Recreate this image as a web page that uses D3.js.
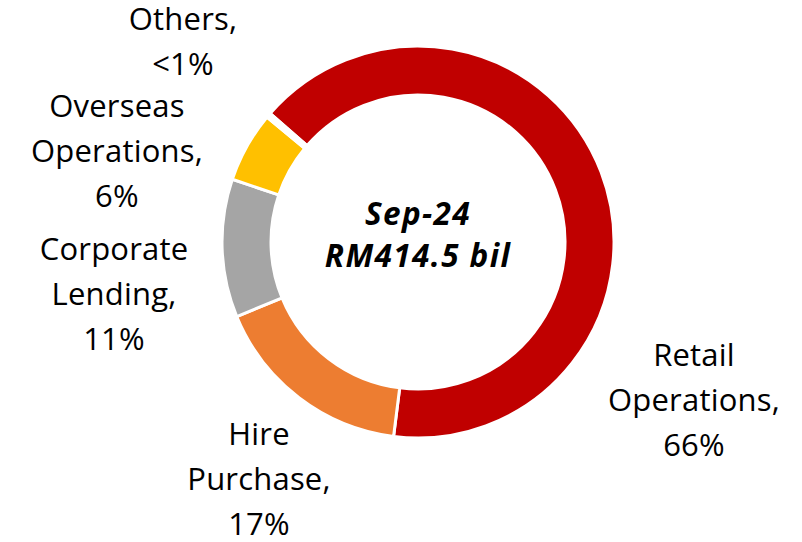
<!DOCTYPE html>
<html>
<head>
<meta charset="utf-8">
<script src="https://cdn.jsdelivr.net/npm/d3@7"></script>
<style>
  html, body { margin: 0; padding: 0; background: #ffffff; }
  svg { display: block; }
  text { font-family: "Open Sans", "Noto Sans", sans-serif; fill: #000000; }
</style>
</head>
<body>
<svg id="chart" width="802" height="542"></svg>
<script>
// ==============================
// DATA
// ==============================

const segments = ["Retail Operations", "Hire Purchase", "Corporate Lending", "Overseas Operations", "Others"];
const shares = [65.6, 16.8, 11.4, 5.8, 0.4];
const shareLabels = ["66%", "17%", "11%", "6%", "<1%"];
const labelLines = [
  ["Retail", "Operations,"],
  ["Hire", "Purchase,"],
  ["Corporate", "Lending,"],
  ["Overseas", "Operations,"],
  ["Others,"]
];
const centerLines = ["Sep-24", "RM414.5 bil"];

// Slice colors
const segmentColors = ["#C00000", "#ED7D31", "#A5A5A5", "#FFC000", "#FFFFFF"];

// ==============================
// LAYOUT
// ==============================

const cx = 418;
const cy = 242;
const outerR = 196;
const innerR = 147;
const startDeg = -49;
const lineGap = 45;

// first baseline of each label block, x is the centre
const labelAnchors = [
  [694, 366],
  [259, 445],
  [114, 260],
  [117, 117],
  [183, 30]
];

const svg = d3.select("#chart");
const g = svg.append("g").attr("transform", `translate(${cx},${cy})`);

const pie = d3.pie()
  .sort(null)
  .value(d => d)
  .startAngle(startDeg * Math.PI / 180)
  .endAngle((startDeg + 360) * Math.PI / 180);

const arc = d3.arc()
  .innerRadius(innerR)
  .outerRadius(outerR);

// Draw slices
g.selectAll("path")
  .data(pie(shares))
  .enter()
  .append("path")
  .attr("d", arc)
  .attr("fill", (d, i) => segmentColors[i])
  .attr("stroke", "#ffffff")
  .attr("stroke-width", 3)
  .attr("stroke-linejoin", "miter");

// Draw labels
const labelGroup = svg.append("g").attr("class", "labels");

segments.forEach((name, i) => {
  const lines = labelLines[i].concat([shareLabels[i]]);
  const [lx, ly] = labelAnchors[i];

  const text = labelGroup.append("text")
    .attr("text-anchor", "middle")
    .attr("font-size", "31px")
    .attr("letter-spacing", "0.2px");

  lines.forEach((line, k) => {
    text.append("tspan")
      .attr("x", lx)
      .attr("y", ly + k * lineGap)
      .text(line);
  });
});

// Centre title
const centerText = svg.append("text")
  .attr("text-anchor", "middle")
  .attr("font-size", "31.5px")
  .attr("font-weight", "700")
  .attr("font-style", "italic")
  .attr("letter-spacing", "1.4px");

centerLines.forEach((line, k) => {
  centerText.append("tspan")
    .attr("x", cx)
    .attr("y", 225 + k * 42)
    .text(line);
});
</script>
</body>
</html>
